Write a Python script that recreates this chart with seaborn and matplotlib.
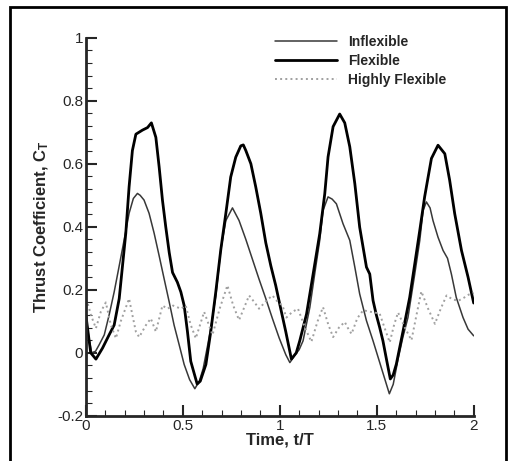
import matplotlib
matplotlib.use('Agg')
import matplotlib.pyplot as plt
import seaborn as sns
from matplotlib.ticker import MultipleLocator
from matplotlib.patches import Rectangle

# values
t_inflex = [0.0, 0.015, 0.03, 0.05, 0.069, 0.095, 0.12, 0.146, 0.172, 0.198, 0.223, 0.245, 0.266, 0.28,
            0.30, 0.326, 0.352, 0.378, 0.404, 0.43, 0.455, 0.481, 0.507, 0.535, 0.562, 0.585, 0.605, 0.63,
            0.65, 0.67, 0.696, 0.722, 0.756, 0.79, 0.825, 0.859, 0.893, 0.928, 0.962, 0.997, 1.031, 1.052,
            1.075, 1.10, 1.12, 1.155, 1.18, 1.206, 1.223, 1.249, 1.27, 1.292, 1.326, 1.361, 1.387,
            1.412, 1.447, 1.481, 1.51, 1.54, 1.565, 1.585, 1.61, 1.635, 1.661, 1.696, 1.722, 1.739,
            1.756, 1.775, 1.79, 1.816, 1.842, 1.865, 1.885, 1.91, 1.945, 1.971, 2.0]
ct_inflex = [0.12, 0.05, 0.0, 0.005, 0.026, 0.057, 0.12, 0.193, 0.276, 0.36, 0.443, 0.49, 0.506, 0.50,
             0.485, 0.443, 0.38, 0.308, 0.234, 0.161, 0.088, 0.026, -0.037, -0.085, -0.114, -0.09, -0.05, 0.03,
             0.10, 0.18, 0.328, 0.42, 0.46, 0.42, 0.36, 0.297, 0.234, 0.172, 0.109, 0.047, -0.006, -0.031,
             -0.01, 0.01, 0.038, 0.144, 0.25, 0.357, 0.452, 0.495, 0.488, 0.473, 0.41, 0.357, 0.272,
             0.187, 0.102, 0.038, -0.02, -0.08, -0.13, -0.10, -0.02, 0.05, 0.112, 0.25, 0.357, 0.452,
             0.479, 0.46, 0.42, 0.367, 0.325, 0.30, 0.25, 0.176, 0.112, 0.075, 0.054]

t_flex = [0.0, 0.025, 0.052, 0.086, 0.12, 0.146, 0.172, 0.189, 0.206, 0.223, 0.24, 0.258, 0.292, 0.318,
          0.338, 0.361, 0.378, 0.395, 0.412, 0.43, 0.447, 0.472, 0.49, 0.507, 0.524, 0.541, 0.574, 0.59,
          0.619, 0.644, 0.67, 0.696, 0.722, 0.747, 0.773, 0.799, 0.812, 0.825, 0.851, 0.876, 0.902, 0.928,
          0.954, 0.979, 1.005, 1.031, 1.06, 1.085, 1.103, 1.138, 1.172, 1.206, 1.232, 1.249, 1.275, 1.309,
          1.335, 1.361, 1.387, 1.412, 1.447, 1.464, 1.481, 1.498, 1.515, 1.532, 1.55, 1.57, 1.585, 1.601,
          1.636, 1.67, 1.696, 1.722, 1.747, 1.765, 1.782, 1.816, 1.851, 1.876, 1.902, 1.937, 1.971, 2.0]
ct_flex = [0.12, 0.0, -0.02, 0.015, 0.057, 0.088, 0.172, 0.276, 0.38, 0.527, 0.642, 0.694, 0.707, 0.715,
           0.73, 0.684, 0.59, 0.485, 0.40, 0.318, 0.255, 0.224, 0.193, 0.15, 0.067, -0.027, -0.099, -0.09,
           -0.037, 0.067, 0.193, 0.328, 0.443, 0.558, 0.621, 0.657, 0.66, 0.642, 0.60, 0.527, 0.443, 0.349,
           0.276, 0.214, 0.14, 0.067, -0.02, 0.0, 0.038, 0.123, 0.25, 0.378, 0.505, 0.622, 0.718, 0.758,
           0.73, 0.654, 0.537, 0.399, 0.272, 0.25, 0.166, 0.12, 0.081, 0.038, -0.02, -0.083, -0.07, -0.036,
           0.07, 0.176, 0.282, 0.389, 0.495, 0.558, 0.617, 0.659, 0.632, 0.548, 0.442, 0.325, 0.24, 0.158]

t_high = [0.0, 0.013, 0.026, 0.052, 0.077, 0.103, 0.129, 0.155, 0.18, 0.223, 0.24, 0.258, 0.275, 0.31,
          0.335, 0.361, 0.395, 0.421, 0.45, 0.49, 0.515, 0.54, 0.567, 0.61, 0.653, 0.69, 0.73, 0.76,
          0.79, 0.842, 0.87, 0.893, 0.93, 0.962, 0.985, 1.014, 1.034, 1.065, 1.094, 1.13, 1.163,
          1.195, 1.223, 1.25, 1.275, 1.305, 1.335, 1.35, 1.37, 1.40, 1.43, 1.47, 1.515, 1.54, 1.567,
          1.59, 1.61, 1.645, 1.679, 1.705, 1.73, 1.765, 1.80, 1.83, 1.86, 1.89, 1.92, 1.95, 1.975, 2.0]
ct_high = [0.17, 0.15, 0.12, 0.078, 0.13, 0.16, 0.088, 0.046, 0.10, 0.172, 0.12, 0.067, 0.05, 0.088,
           0.109, 0.067, 0.15, 0.14, 0.15, 0.14, 0.15, 0.09, 0.046, 0.13, 0.057, 0.14, 0.214, 0.15,
           0.104, 0.182, 0.16, 0.14, 0.165, 0.182, 0.165, 0.15, 0.112, 0.13, 0.14, 0.08, 0.035,
           0.10, 0.145, 0.09, 0.05, 0.08, 0.098, 0.08, 0.06, 0.11, 0.135, 0.13, 0.125, 0.08, 0.033,
           0.09, 0.128, 0.08, 0.04, 0.12, 0.195, 0.14, 0.092, 0.14, 0.182, 0.17, 0.165, 0.175, 0.185, 0.19]

sns.set_style('ticks')
plt.rcParams['font.family'] = ['Liberation Sans', 'DejaVu Sans']
plt.rcParams['mathtext.fontset'] = 'custom'
plt.rcParams['mathtext.rm'] = 'Liberation Sans'
plt.rcParams['mathtext.bf'] = 'Liberation Sans:bold'

fig = plt.figure(figsize=(5.11, 4.61), dpi=100)
ax = fig.add_axes([0.168, 0.098, 0.759, 0.82])

sns.lineplot(x=t_inflex, y=ct_inflex, ax=ax, color='#383838', linewidth=1.1, label='Inflexible')
sns.lineplot(x=t_flex, y=ct_flex, ax=ax, color='black', linewidth=2.0, label='Flexible')
sns.lineplot(x=t_high, y=ct_high, ax=ax, color='#a0a0a0', linewidth=1.4, linestyle=':',
             label='Highly Flexible')

ax.set_xlim(0, 2)
ax.set_ylim(-0.2, 1)
ax.xaxis.set_major_locator(MultipleLocator(0.5))
ax.xaxis.set_minor_locator(MultipleLocator(0.1))
ax.yaxis.set_major_locator(MultipleLocator(0.2))
ax.yaxis.set_minor_locator(MultipleLocator(0.04))
ax.xaxis.set_major_formatter(plt.FuncFormatter(lambda v, p: f'{v:g}'))
ax.yaxis.set_major_formatter(plt.FuncFormatter(lambda v, p: f'{v:g}'))
ax.tick_params(which='major', direction='in', length=8, width=1.5, labelsize=11, pad=2)
ax.tick_params(which='minor', direction='in', length=4, width=0.8)

sns.despine(ax=ax)
ax.spines['left'].set_linewidth(2)
ax.spines['bottom'].set_linewidth(2)

ax.set_xlabel('Time, t/T', fontsize=12, fontweight='bold', labelpad=0)
ax.set_ylabel(r'Thrust Coefficient, $\mathbf{C_T}$', fontsize=12, fontweight='bold', labelpad=4)

leg = ax.legend(loc='upper right', bbox_to_anchor=(0.952, 1.03), frameon=False, handlelength=4.5,
                handletextpad=0.8, labelspacing=0.35, borderaxespad=0.2, fontsize=10)
for txt in leg.get_texts():
    txt.set_fontweight('bold')

# outer frame around the figure
fig.patches.append(Rectangle((10 / 511, -0.05), 496 / 511, 1.0 - 7 / 461 + 0.05, transform=fig.transFigure,
                             fill=False, edgecolor='black', linewidth=2))

fig.savefig('out.png', dpi=100)
